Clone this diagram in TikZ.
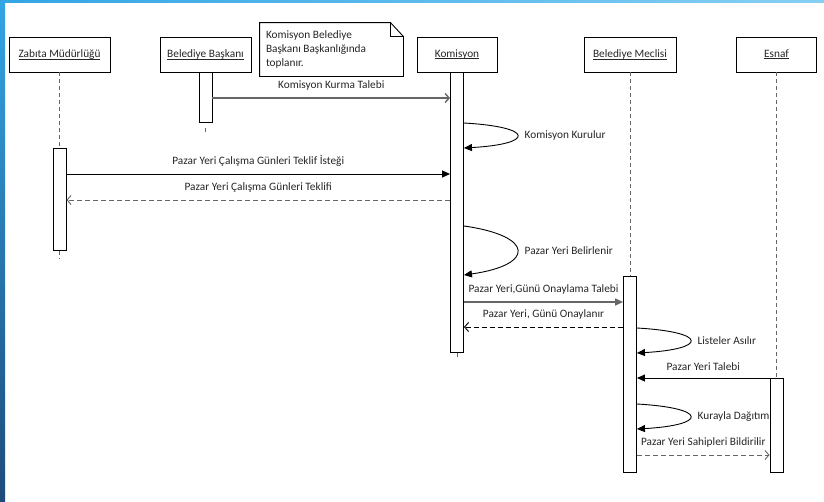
\documentclass[tikz,border=0pt]{standalone}
\usepackage{fontspec}
\setmainfont{Carlito}
\usetikzlibrary{arrows.meta,positioning}
\newsavebox{\headbox}
\newcommand{\ulname}[1]{\sbox{\headbox}{#1}\rlap{\usebox{\headbox}}\rule[-2pt]{\wd\headbox}{0.9pt}}
\definecolor{textgray}{HTML}{262626}
\definecolor{linegray}{HTML}{666666}
\definecolor{bluetop}{HTML}{33A5E5}
\definecolor{bluebottom}{HTML}{1D4B7B}
\definecolor{bluelight}{HTML}{86CFF3}
\tikzset{
     label font/.style={font=\fontsize{11.3}{14}\selectfont, text=textgray},
      head node/.style   = {draw, fill=white, minimum height=35pt, label font},
      act node/.style = {draw, fill=white, minimum width=13pt, inner sep=0pt},
      note node/.style = {label font, align=flush left, text width=131pt, inner xsep=6pt, minimum height=53pt},
      lifeline/.style = {linegray, dash pattern=on 4pt off 3pt},
      call/.style = {black, -{Triangle[length=8pt,width=7pt]}},
      callgray/.style = {linegray, line width=1.4pt, -{Triangle[length=8pt,width=7pt]}},
      async/.style = {linegray, line width=1.4pt, -{Straight Barb[length=4pt,width=9pt]}},
      reply/.style = {linegray, dash pattern=on 5pt off 3pt, -{Straight Barb[length=4pt,width=9pt]}},
      selfcall/.style = {black, -{Triangle[length=8pt,width=7pt]}},
      msg label/.style = {label font, above=6pt, midway, inner sep=1pt},
      self label/.style = {label font, right=6pt, pos=0.5, inner sep=1pt},
    }

\begin{document}
\begin{tikzpicture}[x=1pt,y=-1pt,node distance=0pt,line width=0.9pt]
  \fill[white] (0,0) rectangle (824,501);
  \useasboundingbox (0,0) rectangle (824,501);
  \shade[top color=bluetop, bottom color=bluebottom] (0,0) rectangle (5,501);
  \shade[left color=bluetop, right color=bluelight] (0,0) rectangle (824,2.3);

  \node [head node, minimum width=101pt] (zab) at (59.5,54.5) {\ulname{Zabıta Müdürlüğü}};
  \node [head node, minimum width=91pt]  (bb)  at (205.5,54.5) {\ulname{Belediye Başkanı}};
  \node [head node, minimum width=80pt]  (kom) at (457,54.5) {\ulname{Komisyon}};
  \node [head node, minimum width=92pt]  (mec) at (630,54.5) {\ulname{Belediye Meclisi}};
  \node [head node, minimum width=80pt]  (esn) at (776.5,54.5) {\ulname{Esnaf}};

  \node [act node, minimum height=102pt, below=76pt of zab] (zabAct) {};
  \node [act node, minimum height=50pt, below=of bb]         (bbAct)  {};
  \node [act node, minimum height=280pt, below=of kom]       (komAct) {};
  \node [act node, minimum height=196pt, below=204pt of mec] (mecAct) {};
  \node [act node, minimum height=94pt, below=306pt of esn]  (esnAct) {};

  \draw[lifeline] (zab) -- (zabAct);
  \draw[lifeline] (zabAct.south) -- +(0,8);
  \draw[lifeline] ([yshift=-5pt]bbAct.south) -- +(0,5);
  \draw[lifeline] (komAct.south) -- +(0,5);
  \draw[lifeline] (mec) -- (mecAct);
  \draw[lifeline] (esn) -- (esnAct);

  \node [note node] (note) at (331.5,49.5) {Komisyon Belediye\\Başkanı Başkanlığında\\toplanır.};
  \draw (note.north west) -- ([xshift=-13pt]note.north east) -- ([yshift=-14pt]note.north east)
        -- (note.south east) -- (note.south west) -- cycle;
  \draw ([xshift=-13pt]note.north east) -- ([xshift=-13pt,yshift=-14pt]note.north east) -- ([yshift=-14pt]note.north east);

  \draw[async] (bbAct.east |- 0,98) -- (komAct.west |- 0,98) node[msg label] {Komisyon Kurma Talebi};
  \draw[selfcall] (komAct.east |- 0,123) .. controls +(71,4) and +(71,-4) .. (komAct.east |- 0,148)
        node[self label] {Komisyon Kurulur};
  \draw[call] (zabAct.east |- 0,174) -- (komAct.west |- 0,174) node[msg label] {Pazar Yeri Çalışma Günleri Teklif İsteği};
  \draw[reply] (komAct.west |- 0,200) -- (zabAct.east |- 0,200) node[msg label] {Pazar Yeri Çalışma Günleri Teklifi};
  \draw[selfcall] (komAct.east |- 0,226) .. controls +(71,10) and +(71,-10) .. (komAct.east |- 0,275)
        node[self label] {Pazar Yeri Belirlenir};
  \draw[callgray] (komAct.east |- 0,302) -- (mecAct.west |- 0,302) node[msg label] {Pazar Yeri,Günü Onaylama Talebi};
  \draw[reply, black] (mecAct.west |- 0,327) -- (komAct.east |- 0,327) node[msg label] {Pazar Yeri, Günü Onaylanır};
  \draw[selfcall] (mecAct.east |- 0,328) .. controls +(71,4) and +(71,-4) .. (mecAct.east |- 0,353)
        node[self label] {Listeler Asılır};
  \draw[call] (esnAct.west |- 0,378) -- (mecAct.east |- 0,378) node[msg label] {Pazar Yeri Talebi};
  \draw[selfcall] (mecAct.east |- 0,404) .. controls +(71,4) and +(71,-4) .. (mecAct.east |- 0,429)
        node[self label] {Kurayla Dağıtım};
  \draw[reply] (mecAct.east |- 0,455) -- (esnAct.west |- 0,455) node[msg label] {Pazar Yeri Sahipleri Bildirilir};
\end{tikzpicture}
\end{document}
